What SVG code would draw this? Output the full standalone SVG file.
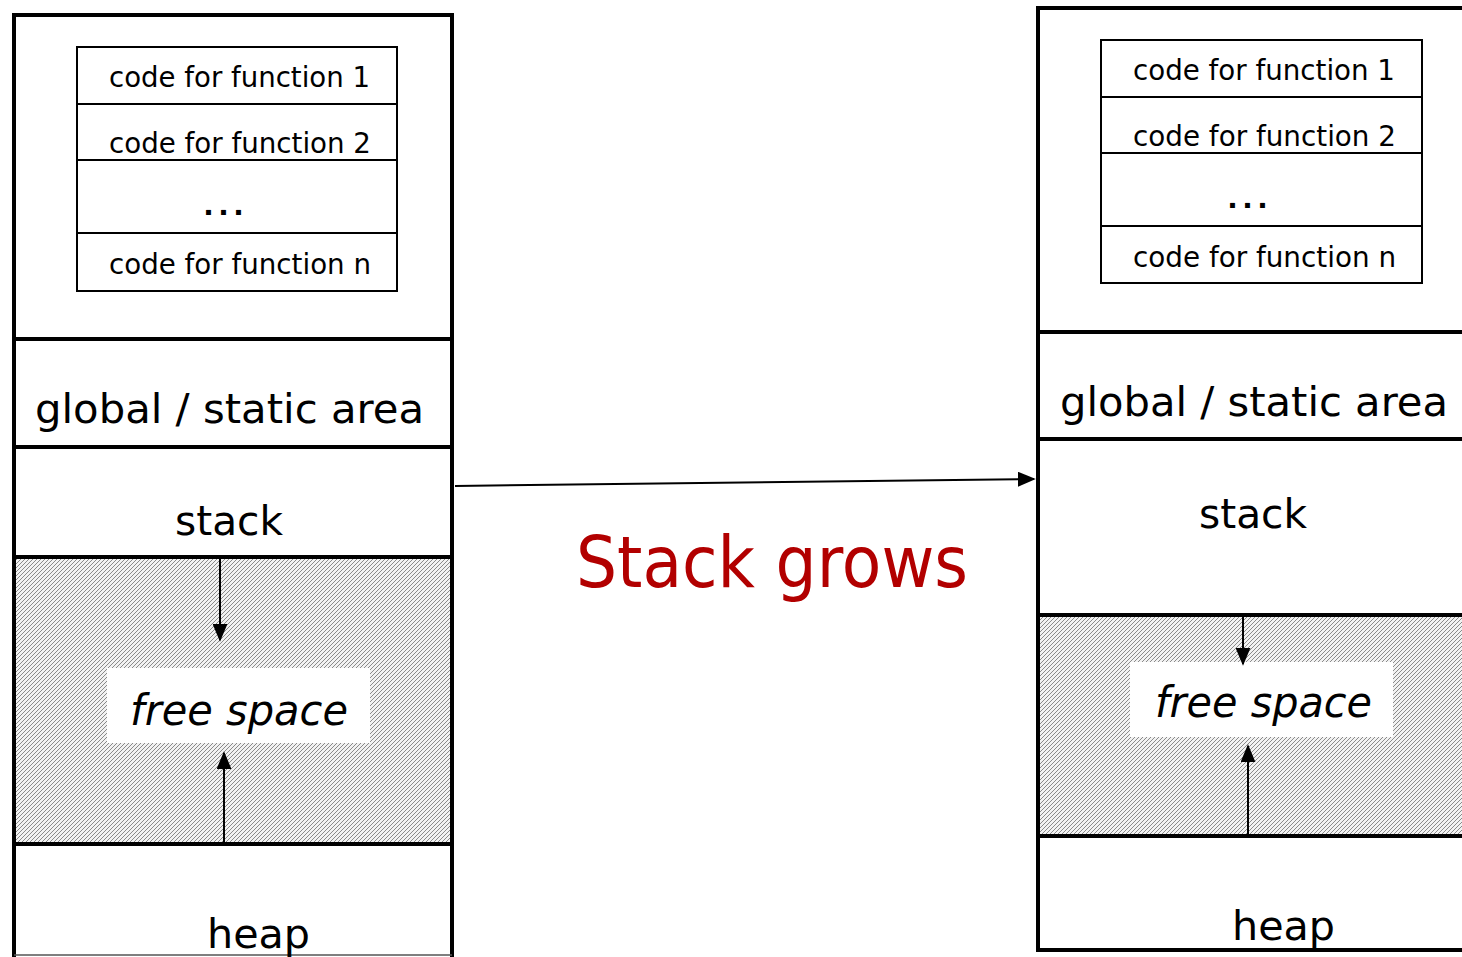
<svg xmlns="http://www.w3.org/2000/svg" width="1462" height="957" viewBox="0 0 1462 957">
<style>
.t{font-family:"DejaVu Sans","Liberation Sans",sans-serif;fill:#000}
.s{font-size:29px}
.l{font-size:40px}
.i{font-size:42px;font-style:italic}
.thick{stroke:#000;stroke-width:4;fill:none}
.thin{stroke:#000;stroke-width:2;fill:none}
.arr{stroke:#000;stroke-width:2;fill:none}
</style>
<defs>
<pattern id="hatch" width="4" height="4" patternUnits="userSpaceOnUse">
<rect width="4" height="4" fill="#f2f2f2"/>
<path d="M-1,1 L1,-1 M0,4 L4,0 M3,5 L5,3" stroke="#8a8a8a" stroke-width="1"/>
</pattern>
<marker id="ahv" viewBox="0 0 10 10" refX="9" refY="5" markerWidth="18" markerHeight="15" markerUnits="userSpaceOnUse" orient="auto" preserveAspectRatio="none">
<path d="M0,0 L10,5 L0,10 z" fill="#000"/>
</marker>
</defs>
<rect width="1462" height="957" fill="#fff"/>

<g id="left-memory">
<rect x="14" y="557" width="438" height="287" fill="url(#hatch)"/>
<rect x="107" y="668" width="263" height="75" fill="#fff"/>
<path class="thick" d="M14,957 L14,15 L452,15 L452,957"/>
<path class="thick" d="M14,339 H452 M14,447 H452 M14,557 H452 M14,844 H452"/>
<path d="M14,955 H452" stroke="#555" stroke-width="1.5"/>
<g id="left-code-table">
<rect class="thin" x="77" y="47" width="320" height="244"/>
<path class="thin" d="M77,104 H397 M77,160 H397 M77,233 H397"/>
<text class="t s" x="109" y="87" textLength="261" lengthAdjust="spacingAndGlyphs">code for function 1</text>
<text class="t s" x="109" y="153" textLength="262" lengthAdjust="spacingAndGlyphs">code for function 2</text>
<text class="t l" x="201" y="215" textLength="45" lengthAdjust="spacingAndGlyphs">...</text>
<text class="t s" x="109" y="274" textLength="262" lengthAdjust="spacingAndGlyphs">code for function n</text>
</g>
<text class="t l" x="35" y="423" textLength="389" lengthAdjust="spacingAndGlyphs">global / static area</text>
<text class="t l" x="175" y="535" textLength="108" lengthAdjust="spacingAndGlyphs">stack</text>
<text class="t i" x="130" y="725" textLength="218" lengthAdjust="spacingAndGlyphs">free space</text>
<text class="t l" x="207" y="948" textLength="103" lengthAdjust="spacingAndGlyphs">heap</text>
</g>

<g id="right-memory">
<rect x="1038" y="615" width="424" height="221" fill="url(#hatch)"/>
<rect x="1130" y="662" width="263" height="75" fill="#fff"/>
<path class="thick" d="M1462,8 L1038,8 L1038,950 L1462,950"/>
<path class="thick" d="M1038,332 H1462 M1038,439 H1462 M1038,615 H1462 M1038,836 H1462"/>
<g id="right-code-table">
<rect class="thin" x="1101" y="40" width="321" height="243"/>
<path class="thin" d="M1101,97 H1422 M1101,153 H1422 M1101,226 H1422"/>
<text class="t s" x="1133" y="80" textLength="262" lengthAdjust="spacingAndGlyphs">code for function 1</text>
<text class="t s" x="1133" y="146" textLength="263" lengthAdjust="spacingAndGlyphs">code for function 2</text>
<text class="t l" x="1225" y="208" textLength="45" lengthAdjust="spacingAndGlyphs">...</text>
<text class="t s" x="1133" y="267" textLength="263" lengthAdjust="spacingAndGlyphs">code for function n</text>
</g>
<text class="t l" x="1060" y="416" textLength="388" lengthAdjust="spacingAndGlyphs">global / static area</text>
<text class="t l" x="1199" y="528" textLength="108" lengthAdjust="spacingAndGlyphs">stack</text>
<text class="t i" x="1155" y="717" textLength="217" lengthAdjust="spacingAndGlyphs">free space</text>
<text class="t l" x="1232" y="940" textLength="103" lengthAdjust="spacingAndGlyphs">heap</text>
</g>

<g id="connectors">
<line class="arr" x1="220" y1="559" x2="220" y2="640" marker-end="url(#ahv)"/>
<line class="arr" x1="224" y1="842" x2="224" y2="753" marker-end="url(#ahv)"/>
<line class="arr" x1="1243" y1="617" x2="1243" y2="664" marker-end="url(#ahv)"/>
<line class="arr" x1="1248" y1="834" x2="1248" y2="746" marker-end="url(#ahv)"/>
<line class="arr" x1="455" y1="486" x2="1034" y2="479" marker-end="url(#ahv)"/>
</g>

<text id="label-stack-grows" x="576" y="587" font-family="DejaVu Sans, Liberation Sans, sans-serif" font-size="72" fill="#B20000" textLength="392" lengthAdjust="spacingAndGlyphs">Stack grows</text>
</svg>
